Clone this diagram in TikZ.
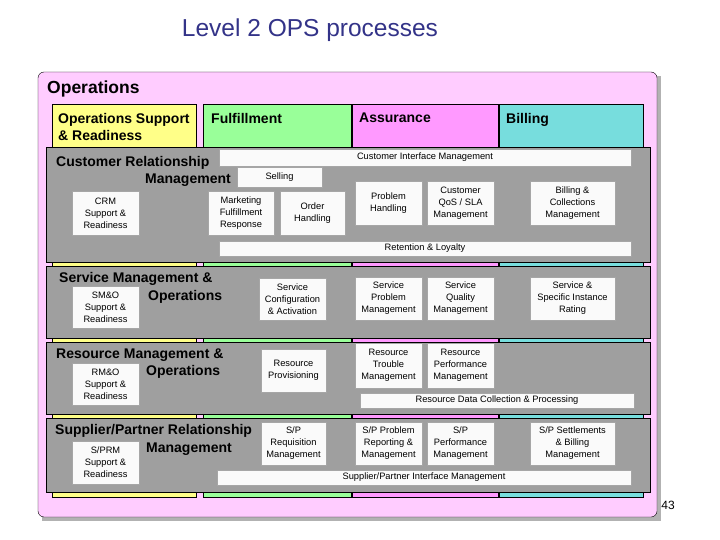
\documentclass[tikz,border=0pt]{standalone}
\usepackage{fontspec}
\setmainfont{Liberation Sans}
\begin{document}
\begin{tikzpicture}[x=1pt,y=-1pt,
  bx/.style={draw=gray!70,fill=white!96!gray,inner sep=0pt,align=center,font=\fontsize{9.3}{12}\selectfont},
  band/.style={draw=black,line width=0.8pt,fill=gray!75},
  col/.style={draw=black,line width=0.8pt},
  hdr/.style={anchor=north west,inner sep=0pt,align=left,font=\fontsize{14}{17}\selectfont\bfseries},
  bt/.style={anchor=west,inner sep=0pt,font=\fontsize{14}{16}\selectfont\bfseries}]
\useasboundingbox (0,0) rectangle (720,540);
\definecolor{pnk}{HTML}{FFCCFF}\definecolor{yel}{HTML}{FFFF88}\definecolor{grn}{HTML}{99FF99}
\definecolor{mag}{HTML}{FF99FF}\definecolor{cya}{HTML}{77DDDD}\definecolor{ttl}{HTML}{333388}
\node[font=\fontsize{24.5}{26}\selectfont,text=ttl] (title) at (310,30) {Level 2 OPS processes};
\fill[gray!60] (42,76) rectangle (661,521);
\draw[fill=pnk,rounded corners=6pt] (38,72) rectangle (657,517);
\node[anchor=west,inner sep=0pt,font=\fontsize{17.5}{19}\selectfont\bfseries] (ops) at (47,89) {Operations};
\draw[col,fill=yel] (52,104) rectangle (196,497);
\draw[col,fill=grn] (203,104) rectangle (351,497);
\draw[col,fill=mag] (352,104) rectangle (498,497);
\draw[col,fill=cya] (499,104) rectangle (643,497);
\node[hdr] (h1) at (58,113) {Operations Support\\\& Readiness};
\node[hdr] (h2) at (211,113) {Fulfillment};
\node[hdr] (h3) at (359,113) {Assurance};
\node[hdr] (h4) at (506,113) {Billing};
\draw[band] (46,147) rectangle (650,262);
\draw[band] (46,266) rectangle (650,338);
\draw[band] (46,342) rectangle (650,414);
\draw[band] (46,418) rectangle (650,492);
% CRM
\node[bt] (t1) at (56,163) {Customer Relationship};
\node[bt] (t1b) at (145,180) {Management};
\node[bx,minimum width=412,minimum height=17] (cim) at (425,157.5) {Customer Interface Management};
\node[bx,minimum width=85,minimum height=20] (sel) at (279.5,177) {Selling};
\node[bx,minimum width=67,minimum height=44] (crmsr) at (105.5,213) {CRM\\Support \&\\Readiness};
\node[bx,minimum width=66,minimum height=44] (mfr) at (241,213) {Marketing\\Fulfillment\\Response};
\node[bx,minimum width=65,minimum height=44] (oh) at (312.5,213) {Order\\Handling};
\node[bx,minimum width=67,minimum height=44] (ph) at (388.5,203) {Problem\\Handling};
\node[bx,minimum width=67,minimum height=44] (qos) at (460.5,203) {Customer\\QoS / SLA\\Management};
\node[bx,minimum width=85,minimum height=44] (bcm) at (572.5,203) {Billing \&\\Collections\\Management};
\node[bx,minimum width=412,minimum height=15] (rl) at (425,248.5) {Retention \& Loyalty};
% SM&O
\node[bt] (t2) at (59,279) {Service Management \&};
\node[bt] (t2b) at (148,297) {Operations};
\node[bx,minimum width=67,minimum height=42] (smo) at (105.5,307) {SM\&O\\Support \&\\Readiness};
\node[bx,minimum width=67,minimum height=42] (sca) at (292.5,299) {Service\\Configuration\\\& Activation};
\node[bx,minimum width=67,minimum height=43] (spm) at (388.5,298.5) {Service\\Problem\\Management};
\node[bx,minimum width=67,minimum height=43] (sqm) at (460.5,298.5) {Service\\Quality\\Management};
\node[bx,minimum width=85,minimum height=43] (ssir) at (572.5,298.5) {Service \&\\Specific Instance\\Rating};
% RM&O
\node[bt] (t3) at (56,355) {Resource Management \&};
\node[bt] (t3b) at (146,372) {Operations};
\node[bx,minimum width=67,minimum height=42] (rmo) at (105.5,384) {RM\&O\\Support \&\\Readiness};
\node[bx,minimum width=65,minimum height=43] (rp) at (293.5,370.5) {Resource\\Provisioning};
\node[bx,minimum width=67,minimum height=45] (rtm) at (388.5,365.5) {Resource\\Trouble\\Management};
\node[bx,minimum width=67,minimum height=45] (rpm) at (460.5,365.5) {Resource\\Performance\\Management};
\node[bx,minimum width=274,minimum height=15] (rdcp) at (497,400.5) {Resource Data Collection \& Processing};
% S/PRM
\node[bt] (t4) at (55,431) {Supplier/Partner Relationship};
\node[bt] (t4b) at (146,449) {Management};
\node[bx,minimum width=67,minimum height=43] (sprm) at (105.5,462.5) {S/PRM\\Support \&\\Readiness};
\node[bx,minimum width=65,minimum height=43] (sprq) at (293.5,443.5) {S/P\\Requisition\\Management};
\node[bx,minimum width=67,minimum height=43] (sppr) at (388.5,443.5) {S/P Problem\\Reporting \&\\Management};
\node[bx,minimum width=67,minimum height=43] (sppm) at (460.5,443.5) {S/P\\Performance\\Management};
\node[bx,minimum width=85,minimum height=43] (spsb) at (572.5,443.5) {S/P Settlements\\\& Billing\\Management};
\node[bx,minimum width=414,minimum height=15] (spim) at (424,477.5) {Supplier/Partner Interface Management};
\node[font=\fontsize{12}{14}\selectfont] (pg) at (668,505) {43};
\end{tikzpicture}
\end{document}
